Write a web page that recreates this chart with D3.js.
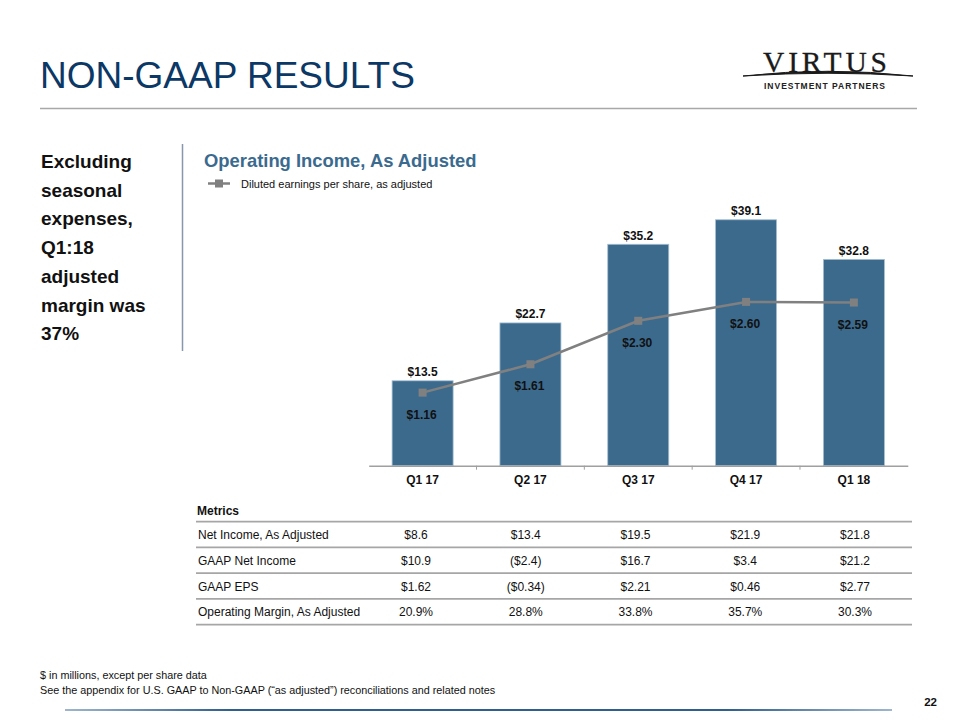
<!DOCTYPE html>
<html><head><meta charset="utf-8">
<script src="https://cdn.jsdelivr.net/npm/d3@7"></script>
<style>body{margin:0;background:#fff;}svg{display:block;font-family:Arial,"Liberation Sans",sans-serif;}</style>
</head><body>
<script>
const categories = ["Q1 17","Q2 17","Q3 17","Q4 17","Q1 18"];
const operatingIncome = [13.5, 22.7, 35.2, 39.1, 32.8];
const dilutedEPS = [1.16, 1.61, 2.30, 2.60, 2.59];
const metricRows = ["Net Income, As Adjusted","GAAP Net Income","GAAP EPS","Operating Margin, As Adjusted"];
const netIncomeAdj = ["$8.6","$13.4","$19.5","$21.9","$21.8"];
const gaapNetIncome = ["$10.9","($2.4)","$16.7","$3.4","$21.2"];
const gaapEPS = ["$1.62","($0.34)","$2.21","$0.46","$2.77"];
const opMarginAdj = ["20.9%","28.8%","33.8%","35.7%","30.3%"];
const sideText = ["Excluding","seasonal","expenses,","Q1:18","adjusted","margin was","37%"];
const footnotes = ["$ in millions, except per share data","See the appendix for U.S. GAAP to Non-GAAP (\u201cas adjusted\u201d) reconciliations and related notes"];

const W = 960, H = 720;
const svg = d3.select("body").append("svg").attr("width", W).attr("height", H);

// Title
svg.append("text").attr("x", 40).attr("y", 88).attr("font-size", 37).attr("fill", "#0c3866").text("NON-GAAP RESULTS");
svg.append("line").attr("x1", 40).attr("x2", 917).attr("y1", 108.5).attr("y2", 108.5).attr("stroke", "#a8a8a8").attr("stroke-width", 1.5);

// Logo
const logo = svg.append("g");
logo.append("text").attr("x", 763).attr("y", 72).attr("font-family", "'Liberation Serif','DejaVu Serif',serif")
  .attr("font-size", 29.5).attr("textLength", 124).attr("lengthAdjust", "spacing").attr("fill", "#1a1a1a")
  .attr("stroke", "#1a1a1a").attr("stroke-width", 0.3).text("VIRTUS");
logo.append("path").attr("d", "M743,76 Q828,66.5 913,76 Q828,70.5 743,76 Z").attr("fill", "#1a1a1a").attr("stroke", "#1a1a1a").attr("stroke-width", 1);
logo.append("text").attr("x", 764).attr("y", 88.5).attr("font-size", 8.5).attr("font-weight", "bold")
  .attr("textLength", 121).attr("lengthAdjust", "spacing").attr("fill", "#222").text("INVESTMENT PARTNERS");

// Side text
svg.append("g").selectAll("text").data(sideText).join("text")
  .attr("x", 41).attr("y", (d, i) => 168 + i * 28.7).attr("font-size", 19).attr("font-weight", "bold").attr("fill", "#111").text(d => d);
svg.append("line").attr("x1", 182.5).attr("x2", 182.5).attr("y1", 144).attr("y2", 351).attr("stroke", "#8797ad").attr("stroke-width", 1.5);

// Chart title & legend
svg.append("text").attr("x", 204).attr("y", 166.7).attr("font-size", 18.4).attr("font-weight", "bold").attr("fill", "#3b6a8f").text("Operating Income, As Adjusted");
svg.append("line").attr("x1", 208).attr("x2", 230).attr("y1", 183.5).attr("y2", 183.5).attr("stroke", "#808080").attr("stroke-width", 2.5);
svg.append("rect").attr("x", 215).attr("y", 179.5).attr("width", 8).attr("height", 8).attr("fill", "#808080");
svg.append("text").attr("x", 241).attr("y", 188).attr("font-size", 11).attr("fill", "#111").text("Diluted earnings per share, as adjusted");

// Scales
const x = d3.scaleBand().domain(categories).range([368.7, 907.8]).paddingInner(0.434).paddingOuter(0.217);
const y = d3.scaleLinear().domain([0, 40]).range([465.7, 465.7 - 6.29 * 40]);
const y2 = d3.scaleLinear().domain([0, 4]).range([465.7, 465.7 - 63 * 4]);

// Bars
svg.append("g").selectAll("rect").data(operatingIncome).join("rect")
  .attr("x", (d, i) => x(categories[i])).attr("width", x.bandwidth())
  .attr("y", d => y(d)).attr("height", d => y(0) - y(d))
  .attr("fill", "#3c6a8d").attr("stroke", "#a6bfd2").attr("stroke-width", 0.8);
svg.append("g").selectAll("text").data(operatingIncome).join("text")
  .attr("x", (d, i) => x(categories[i]) + x.bandwidth() / 2).attr("y", d => y(d) - 4.5)
  .attr("text-anchor", "middle").attr("font-size", 12).attr("font-weight", "bold").attr("fill", "#111")
  .text(d => "$" + d.toFixed(1));

// Axis
const axisG = svg.append("g").attr("transform", `translate(0,${y(0)})`)
  .call(d3.axisBottom(x).tickSize(0).tickPadding(10));
axisG.select(".domain").attr("stroke", "#a0a0a0").attr("stroke-width", 1.5);
axisG.selectAll(".tick text").attr("font-size", 12).attr("font-weight", "bold").attr("fill", "#111").attr("font-family", "Arial,'Liberation Sans',sans-serif");
const bounds = categories.slice(0, -1).map(c => x(c) + x.bandwidth() + x.step() * x.paddingInner() / 2);
axisG.selectAll(".sep").data(bounds).join("line").attr("class", "sep")
  .attr("x1", d => d).attr("x2", d => d).attr("y1", 0).attr("y2", 4).attr("stroke", "#a0a0a0").attr("stroke-width", 1);

// Line
const cx = (d, i) => x(categories[i]) + x.bandwidth() / 2;
svg.append("path").datum(dilutedEPS)
  .attr("d", d3.line().x(cx).y(d => y2(d)))
  .attr("fill", "none").attr("stroke", "#808080").attr("stroke-width", 2.5);
svg.append("g").selectAll("rect").data(dilutedEPS).join("rect")
  .attr("x", (d, i) => cx(d, i) - 4).attr("y", d => y2(d) - 4).attr("width", 8).attr("height", 8).attr("fill", "#808080");
svg.append("g").selectAll("text").data(dilutedEPS).join("text")
  .attr("x", (d, i) => cx(d, i) - 1).attr("y", d => y2(d) + 26)
  .attr("text-anchor", "middle").attr("font-size", 12).attr("font-weight", "bold").attr("fill", "#111")
  .text(d => "$" + d.toFixed(2));

// Table
const tx = d3.scalePoint().domain(categories).range([416, 855]);
const rows = [netIncomeAdj, gaapNetIncome, gaapEPS, opMarginAdj];
const rowY = d3.scaleLinear().domain([0, 4]).range([521.7, 624.7]);
svg.append("text").attr("x", 197).attr("y", 514.5).attr("font-size", 12).attr("font-weight", "bold").attr("fill", "#111").text("Metrics");
svg.append("g").selectAll("line").data(d3.range(5)).join("line")
  .attr("x1", 196).attr("x2", 912).attr("y1", d => rowY(d)).attr("y2", d => rowY(d))
  .attr("stroke", "#a6a6a6").attr("stroke-width", 1.8);
rows.forEach((vals, r) => {
  const g = svg.append("g");
  g.append("text").attr("x", 198).attr("y", rowY(r) + 17.5).attr("font-size", 12).attr("fill", "#111").text(metricRows[r]);
  g.selectAll("text.v").data(vals).join("text").attr("class", "v")
    .attr("x", (d, i) => tx(categories[i])).attr("y", rowY(r) + 17.5)
    .attr("text-anchor", "middle").attr("font-size", 12).attr("fill", "#111").text(d => d);
});

// Footnotes
svg.append("g").selectAll("text").data(footnotes).join("text")
  .attr("x", 40).attr("y", (d, i) => 679 + i * 15).attr("font-size", 10.8).attr("fill", "#111").text(d => d);

// Bottom line
const defs = svg.append("defs");
const grad = defs.append("linearGradient").attr("id", "bl").attr("x1", "0%").attr("x2", "100%");
grad.append("stop").attr("offset", "0%").attr("stop-color", "#9fb6cc");
grad.append("stop").attr("offset", "20%").attr("stop-color", "#2f5f8c");
grad.append("stop").attr("offset", "80%").attr("stop-color", "#2f5f8c");
grad.append("stop").attr("offset", "100%").attr("stop-color", "#9fb6cc");
svg.append("rect").attr("x", 65).attr("y", 709).attr("width", 827).attr("height", 2).attr("fill", "url(#bl)");
svg.append("text").attr("x", 937).attr("y", 706).attr("text-anchor", "end").attr("font-size", 11.5).attr("font-weight", "bold").attr("fill", "#111").text("22");
</script>
</body></html>
